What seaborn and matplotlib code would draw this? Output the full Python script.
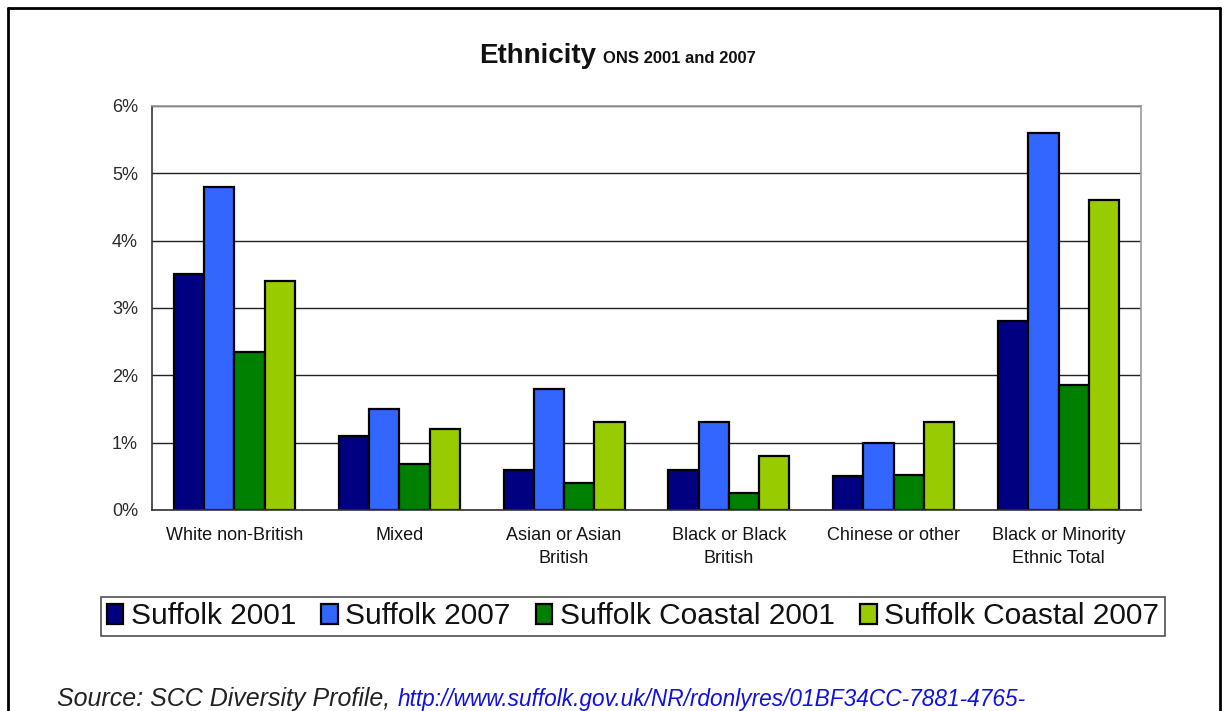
import matplotlib
matplotlib.use("Agg")
import matplotlib.pyplot as plt
import seaborn as sns
import pandas as pd
from matplotlib.lines import Line2D
from matplotlib.ticker import FixedLocator

categories = ["White non-British", "Mixed", "Asian or Asian\nBritish",
              "Black or Black\nBritish", "Chinese or other",
              "Black or Minority\nEthnic Total"]
series_names = ["Suffolk 2001", "Suffolk 2007", "Suffolk Coastal 2001", "Suffolk Coastal 2007"]
suffolk_2001 = [3.5, 1.1, 0.6, 0.6, 0.5, 2.8]
suffolk_2007 = [4.8, 1.5, 1.8, 1.3, 1.0, 5.6]
coastal_2001 = [2.35, 0.68, 0.4, 0.25, 0.52, 1.85]
coastal_2007 = [3.4, 1.2, 1.3, 0.8, 1.3, 4.6]
y_ticks = [0, 1, 2, 3, 4, 5, 6]
y_tick_labels = ["0%", "1%", "2%", "3%", "4%", "5%", "6%"]
colors = ["#000080", "#3366FF", "#008000", "#99CC00"]

rows = []
for name, vals in zip(series_names, [suffolk_2001, suffolk_2007, coastal_2001, coastal_2007]):
    for cat, v in zip(categories, vals):
        rows.append({"category": cat, "series": name, "value": v})
df = pd.DataFrame(rows)

sns.set_theme(style="white")
plt.rcParams["font.family"] = ["Liberation Sans", "DejaVu Sans"]

fig = plt.figure(figsize=(12.28, 7.11), dpi=100)
ax = fig.add_axes([152/1228, 1-510/711, (1141-152)/1228, (510-106)/711])

sns.barplot(data=df, x="category", y="value", hue="series", order=categories,
            hue_order=series_names, palette=colors, width=0.735,
            edgecolor="black", linewidth=1.6, saturation=1, ax=ax, legend=True)

ax.set_ylim(0, 6)
ax.set_xlim(-0.5, len(categories) - 0.5)
ax.set_yticks(y_ticks)
ax.set_yticklabels(y_tick_labels, fontsize=13, color="#2a2a2a")
ax.yaxis.grid(True, color="#222222", linewidth=1)
ax.set_axisbelow(True)
ax.set_xlabel("")
ax.set_ylabel("")
ax.tick_params(axis="x", which="major", length=0, labelsize=13, pad=12, colors="#151515")
ax.xaxis.set_minor_locator(FixedLocator([i + 0.5 for i in range(-1, len(categories))]))
ax.tick_params(axis="x", which="minor", length=6, width=1, color="#333333", direction="out")
ax.tick_params(axis="y", which="major", length=6, width=1, color="#333333", direction="out", pad=4)
ax.set_xticks(range(len(categories)))
ax.set_xticklabels(categories, linespacing=1.45, fontsize=13, color="#151515")
for s in ["left", "bottom"]:
    ax.spines[s].set_color("#333333")
    ax.spines[s].set_linewidth(1.2)
for s in ["top", "right"]:
    ax.spines[s].set_color("#999999")
    ax.spines[s].set_linewidth(1.2)

handles, labels = ax.get_legend_handles_labels()
ax.get_legend().remove()
leg = fig.legend(handles, labels, loc="center", bbox_to_anchor=(633/1228, 1-616.5/711),
                 ncol=4, frameon=True, fancybox=False, edgecolor="#222222",
                 fontsize=21.5, handlelength=0.55, handleheight=0.65, handletextpad=0.25,
                 columnspacing=0.85, borderpad=0.2, borderaxespad=0)
leg.get_frame().set_linewidth(1.2)
for t in leg.get_texts():
    t.set_color("#111111")

fig.text(596/1228, 1-63/711, "Ethnicity", fontsize=20, fontweight="bold", ha="right", va="baseline",
         color="#111111")
fig.text(603/1228, 1-63/711, "ONS 2001 and 2007", fontsize=12, fontweight="bold", ha="left", va="baseline",
         color="#111111")

src = fig.text(57/1228, 1-706/711, "Source: SCC Diversity Profile, ", fontsize=18, style="italic",
               color="#222222", ha="left", va="baseline")
ax.annotate("http://www.suffolk.gov.uk/NR/rdonlyres/01BF34CC-7881-4765-",
            xy=(1, 0), xycoords=src, xytext=(0, 0), textcoords="offset points",
            fontsize=16.3, style="italic", color="#1010E0", ha="left", va="bottom",
            annotation_clip=False)

# page frame
fig.add_artist(Line2D([8/1228, 8/1228], [0, 1-8/711], color="black", linewidth=2, transform=fig.transFigure))
fig.add_artist(Line2D([1220/1228, 1220/1228], [0, 1-8/711], color="black", linewidth=2, transform=fig.transFigure))
fig.add_artist(Line2D([8/1228, 1220/1228], [1-8/711, 1-8/711], color="black", linewidth=2, transform=fig.transFigure))

fig.savefig("out.png", dpi=100)
